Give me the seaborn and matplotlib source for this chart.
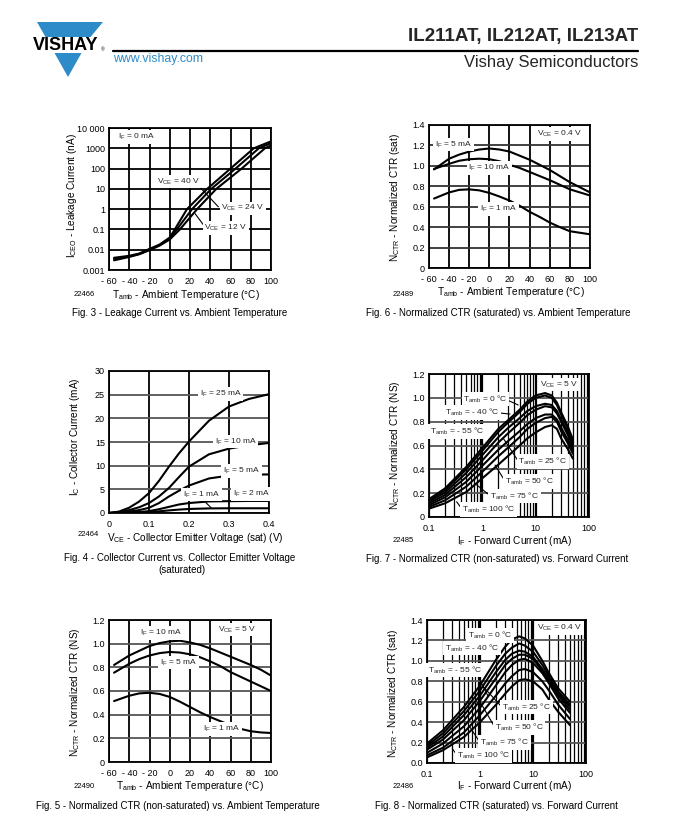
import matplotlib
matplotlib.use("Agg")
import matplotlib.pyplot as plt
import numpy as np
import pandas as pd
import seaborn as sns
from matplotlib.patches import Polygon
from matplotlib.ticker import LogLocator, NullFormatter

W, H = 684, 839

# ---- Fig. 3: leakage current vs temperature (nA) ----
t3_40v = [-55, -40, -30, -20, -10, 0, 5, 17, 37, 60, 83, 100]
i3_40v = [0.004, 0.005, 0.0065, 0.011, 0.018, 0.04, 0.1, 1, 10, 100, 1000, 2200]
t3_24v = [-55, -40, -30, -20, -10, 0, 7, 22, 41, 65, 88, 100]
i3_24v = [0.0035, 0.0047, 0.0062, 0.010, 0.017, 0.035, 0.1, 1, 10, 100, 1000, 1800]
t3_12v = [-55, -40, -30, -20, -10, 0, 10, 27, 46, 71, 94, 100]
i3_12v = [0.003, 0.0044, 0.006, 0.0095, 0.016, 0.032, 0.1, 1, 10, 100, 1000, 1400]

# ---- Fig. 6: normalized CTR (sat) vs temperature ----
t_amb = [-55, -40, -30, -20, -10, 0, 10, 20, 30, 40, 50, 60, 70, 80, 90, 100]
ctr6_5ma = [0.965, 1.07, 1.11, 1.14, 1.16, 1.17, 1.16, 1.14, 1.10, 1.06, 1.01, 0.96, 0.90, 0.84, 0.79, 0.74]
ctr6_10ma = [0.97, 1.02, 1.05, 1.065, 1.07, 1.065, 1.045, 1.01, 0.98, 0.94, 0.90, 0.86, 0.815, 0.77, 0.74, 0.71]
ctr6_1ma = [0.68, 0.74, 0.765, 0.77, 0.76, 0.735, 0.70, 0.66, 0.61, 0.55, 0.50, 0.445, 0.40, 0.36, 0.345, 0.33]

# ---- Fig. 4: collector current vs VCE(sat) ----
vce4 = [0, 0.025, 0.05, 0.075, 0.1, 0.125, 0.15, 0.175, 0.2, 0.25, 0.3, 0.35, 0.4]
ic4_25ma = [0, 0.3, 1.1, 2.4, 4.2, 6.8, 9.8, 12.6, 15.1, 19.5, 22.5, 24.1, 25.1]
ic4_10ma = [0, 0.2, 0.6, 1.2, 2.1, 3.5, 5.3, 7.6, 9.8, 12.4, 13.6, 14.3, 14.8]
ic4_5ma = [0, 0.1, 0.3, 0.6, 1.1, 2.1, 3.5, 4.7, 5.8, 7.3, 7.9, 8.1, 8.15]
ic4_2ma = [0, 0.05, 0.1, 0.2, 0.4, 0.8, 1.3, 1.8, 2.1, 2.45, 2.5, 2.55, 2.55]
ic4_1ma = [0, 0.02, 0.05, 0.1, 0.2, 0.35, 0.55, 0.72, 0.85, 0.97, 1.0, 1.0, 1.0]

# ---- Fig. 7: normalized CTR (NS) vs forward current ----
if7 = [0.1, 0.2, 0.5, 1, 2, 3, 5, 7, 10, 15, 20, 25, 30, 40, 50]
ctr7 = {
    "0": [0.15, 0.24, 0.42, 0.58, 0.74, 0.81, 0.90, 0.97, 1.02, 1.04, 1.02, 0.96, 0.88, 0.76, 0.65],
    "-40": [0.14, 0.225, 0.40, 0.555, 0.715, 0.79, 0.88, 0.95, 1.00, 1.02, 1.00, 0.94, 0.86, 0.74, 0.63],
    "-55": [0.13, 0.205, 0.37, 0.52, 0.67, 0.745, 0.83, 0.89, 0.93, 0.95, 0.94, 0.89, 0.82, 0.71, 0.61],
    "25": [0.115, 0.185, 0.335, 0.475, 0.625, 0.70, 0.79, 0.855, 0.90, 0.93, 0.92, 0.87, 0.80, 0.69, 0.59],
    "50": [0.10, 0.165, 0.295, 0.43, 0.565, 0.635, 0.72, 0.78, 0.83, 0.86, 0.86, 0.82, 0.75, 0.65, 0.56],
    "75": [0.085, 0.14, 0.255, 0.38, 0.51, 0.58, 0.67, 0.74, 0.79, 0.83, 0.84, 0.80, 0.72, 0.62, 0.53],
    "100": [0.07, 0.115, 0.21, 0.325, 0.44, 0.51, 0.60, 0.66, 0.71, 0.755, 0.77, 0.74, 0.66, 0.57, 0.49],
}

# ---- Fig. 5: normalized CTR (NS) vs temperature ----
ctr5_10ma = [0.82, 0.90, 0.94, 0.98, 1.005, 1.02, 1.025, 1.01, 0.99, 0.96, 0.925, 0.89, 0.855, 0.82, 0.78, 0.73]
ctr5_5ma = [0.755, 0.83, 0.87, 0.90, 0.92, 0.93, 0.925, 0.91, 0.885, 0.85, 0.81, 0.76, 0.72, 0.68, 0.64, 0.60]
ctr5_1ma = [0.515, 0.56, 0.58, 0.585, 0.575, 0.55, 0.51, 0.465, 0.42, 0.38, 0.345, 0.31, 0.28, 0.26, 0.25, 0.245]

# ---- Fig. 8: normalized CTR (sat) vs forward current ----
if8 = [0.1, 0.2, 0.5, 1, 2, 3, 4, 5.5, 7, 10, 15, 20, 30, 50]
ctr8 = {
    "0": [0.19, 0.32, 0.55, 0.76, 1.01, 1.14, 1.21, 1.24, 1.22, 1.15, 1.00, 0.88, 0.73, 0.60],
    "-40": [0.17, 0.29, 0.51, 0.71, 0.95, 1.07, 1.13, 1.17, 1.15, 1.09, 0.96, 0.85, 0.70, 0.57],
    "-55": [0.15, 0.26, 0.47, 0.66, 0.89, 1.01, 1.07, 1.10, 1.09, 1.04, 0.92, 0.82, 0.68, 0.55],
    "25": [0.13, 0.23, 0.42, 0.61, 0.83, 0.96, 1.02, 1.06, 1.06, 1.02, 0.90, 0.80, 0.66, 0.52],
    "50": [0.10, 0.19, 0.36, 0.54, 0.76, 0.89, 0.96, 1.01, 1.02, 0.98, 0.88, 0.78, 0.63, 0.49],
    "75": [0.075, 0.15, 0.30, 0.47, 0.66, 0.78, 0.85, 0.91, 0.92, 0.89, 0.80, 0.71, 0.57, 0.43],
    "100": [0.055, 0.125, 0.255, 0.40, 0.57, 0.68, 0.75, 0.81, 0.82, 0.80, 0.72, 0.62, 0.50, 0.37],
}

temp_ticks = [-60, -40, -20, 0, 20, 40, 60, 80, 100]
temp_labels = ["- 60", "- 40", "- 20", "0", "20", "40", "60", "80", "100"]

sns.set_theme(style="white")
plt.rcParams["font.family"] = ["Liberation Sans", "DejaVu Sans"]
plt.rcParams["mathtext.fontset"] = "custom"
plt.rcParams["mathtext.rm"] = "Liberation Sans"
plt.rcParams["mathtext.default"] = "regular"

fig = plt.figure(figsize=(W / 100, H / 100), dpi=100)
fig.patch.set_facecolor("white")

bg = fig.add_axes([0, 0, 1, 1])
bg.set_xlim(0, W)
bg.set_ylim(H, 0)
bg.axis("off")


def panel(left, top, right, bottom):
    return fig.add_axes([left / W, 1 - bottom / H, (right - left) / W, (bottom - top) / H])


def draw_curves(ax, xs, ys, names):
    df = pd.concat(
        [pd.DataFrame({"x": x, "y": y, "curve": n}) for x, y, n in zip(xs, ys, names)],
        ignore_index=True,
    )
    sns.lineplot(data=df, x="x", y="y", units="curve", estimator=None, color="black",
                 linewidth=1.5, ax=ax, legend=False, zorder=3)
    ax.set_xlabel("")
    ax.set_ylabel("")


def style(ax, xlim, ylim, xticks, xlabels, yticks, ylabels, hcolor="#555555"):
    ax.set_xlim(xlim)
    ax.set_ylim(ylim)
    ax.set_xticks(xticks)
    ax.set_xticklabels(xlabels)
    ax.set_yticks(yticks)
    ax.set_yticklabels(ylabels)
    ax.tick_params(axis="both", which="both", length=0, labelsize=6.5, colors="black")
    ax.tick_params(axis="x", pad=5)
    ax.tick_params(axis="y", pad=3)
    ax.set_axisbelow(True)
    ax.xaxis.grid(True, which="major", color="black", linewidth=1.3)
    ax.yaxis.grid(True, which="major", color=hcolor, linewidth=1.3)
    for s in ax.spines.values():
        s.set_visible(True)
        s.set_color("black")
        s.set_linewidth(1.3)


def tag(ax, x, y, s, ha="left"):
    ax.text(x, y, s, ha=ha, va="center", fontsize=6, zorder=5,
            bbox=dict(facecolor="white", edgecolor="none", pad=1.2))


def lead(ax, x0, y0, x1, y1):
    ax.plot([x0, x1], [y0, y1], color="black", linewidth=0.8, zorder=4)


def log_grid(ax):
    ax.set_xscale("log")
    ax.xaxis.set_minor_locator(LogLocator(base=10, subs=np.arange(2, 10)))
    ax.xaxis.set_minor_formatter(NullFormatter())


# ---------------- header ----------------
blue = "#2d8bc9"
bg.add_patch(Polygon([(37, 22), (103, 22), (90.5, 37), (45.5, 37)], closed=True, color=blue, lw=0))
bg.add_patch(Polygon([(54.5, 53), (81.5, 53), (68, 77)], closed=True, color=blue, lw=0))
bg.text(66, 45, "VISHAY", ha="center", va="center", fontsize=13, fontweight="bold", color="black")
bg.text(101, 50, "®", ha="left", va="center", fontsize=3.5, color="black")
bg.plot([113, 638], [51, 51], color="black", linewidth=1.6)
bg.text(113, 59, "www.vishay.com", ha="left", va="center", fontsize=8.8, color=blue)
bg.text(638, 37, "IL211AT, IL212AT, IL213AT", ha="right", va="center", fontsize=13.5, fontweight="bold")
bg.text(638, 63, "Vishay Semiconductors", ha="right", va="center", fontsize=12)

# ---------------- Fig. 3 ----------------
ax3 = panel(109, 128, 271, 270)
ax3.set_yscale("log")
draw_curves(ax3, [t3_40v, t3_24v, t3_12v], [i3_40v, i3_24v, i3_12v], ["40 V", "24 V", "12 V"])
style(ax3, (-60, 100), (0.001, 10000), temp_ticks, temp_labels,
      [0.001, 0.01, 0.1, 1, 10, 100, 1000, 10000],
      ["0.001", "0.01", "0.1", "1", "10", "100", "1000", "10 000"], hcolor="black")
ax3.yaxis.set_minor_formatter(NullFormatter())
tag(ax3, -51, 3600, "I$_F$ = 0 mA")
lead(ax3, 27, 17, 48, 1.3)
lead(ax3, 34, 0.15, 25, 0.6)
tag(ax3, -13, 23, "V$_{CE}$ = 40 V")
tag(ax3, 51, 1.1, "V$_{CE}$ = 24 V")
tag(ax3, 34, 0.115, "V$_{CE}$ = 12 V")

# ---------------- Fig. 6 ----------------
ax6 = panel(429, 125, 590, 268)
draw_curves(ax6, [t_amb] * 3, [ctr6_5ma, ctr6_10ma, ctr6_1ma], ["5", "10", "1"])
style(ax6, (-60, 100), (0, 1.4), temp_ticks, temp_labels,
      [0, 0.2, 0.4, 0.6, 0.8, 1.0, 1.2, 1.4],
      ["0", "0.2", "0.4", "0.6", "0.8", "1.0", "1.2", "1.4"], hcolor="#333333")
tag(ax6, -54, 1.21, "I$_F$ = 5 mA")
tag(ax6, -21, 0.98, "I$_F$ = 10 mA")
tag(ax6, -9.5, 0.576, "I$_F$ = 1 mA")
tag(ax6, 47, 1.31, "V$_{CE}$ = 0.4 V")

# ---------------- Fig. 4 ----------------
ax4 = panel(109, 371, 269, 513)
draw_curves(ax4, [vce4] * 5, [ic4_25ma, ic4_10ma, ic4_5ma, ic4_2ma, ic4_1ma], ["25", "10", "5", "2", "1"])
style(ax4, (0, 0.4), (0, 30), [0, 0.1, 0.2, 0.3, 0.4], ["0", "0.1", "0.2", "0.3", "0.4"],
      [0, 5, 10, 15, 20, 25, 30], ["0", "5", "10", "15", "20", "25", "30"])
tag(ax4, 0.227, 25.1, "I$_F$ = 25 mA")
tag(ax4, 0.264, 15.1, "I$_F$ = 10 mA")
tag(ax4, 0.285, 8.9, "I$_F$ = 5 mA")
lead(ax4, 0.23, 3.2, 0.256, 1.05)
tag(ax4, 0.185, 3.9, "I$_F$ = 1 mA")
tag(ax4, 0.31, 4.0, "I$_F$ = 2 mA")

# ---------------- Fig. 7 ----------------
ax7 = panel(429, 374, 589, 517)
log_grid(ax7)
draw_curves(ax7, [if7] * 7, list(ctr7.values()), list(ctr7.keys()))
style(ax7, (0.1, 100), (0, 1.2), [0.1, 1, 10, 100], ["0.1", "1", "10", "100"],
      [0, 0.2, 0.4, 0.6, 0.8, 1.0, 1.2], ["0", "0.2", "0.4", "0.6", "0.8", "1.0", "1.2"])
ax7.xaxis.grid(True, which="minor", color="black", linewidth=0.9)
ax7.xaxis.grid(True, which="major", color="black", linewidth=1.6)
tag(ax7, 12.1, 1.11, "V$_{CE}$ = 5 V")
lead(ax7, 2.67, 0.99, 4.7, 0.94)
lead(ax7, 1.86, 0.875, 3.3, 0.864)
lead(ax7, 0.84, 0.716, 1.04, 0.60)
lead(ax7, 4.7, 0.47, 2.47, 0.66)
lead(ax7, 2.67, 0.30, 1.73, 0.436)
lead(ax7, 1.39, 0.18, 0.78, 0.27)
lead(ax7, 0.41, 0.07, 0.33, 0.128)
tag(ax7, 0.44, 0.99, "T$_{amb}$ = 0 °C")
tag(ax7, 0.20, 0.875, "T$_{amb}$ = - 40 °C")
tag(ax7, 0.104, 0.716, "T$_{amb}$ = - 55 °C")
tag(ax7, 4.7, 0.464, "T$_{amb}$ = 25 °C")
tag(ax7, 2.67, 0.296, "T$_{amb}$ = 50 °C")
tag(ax7, 1.39, 0.176, "T$_{amb}$ = 75 °C")
tag(ax7, 0.41, 0.065, "T$_{amb}$ = 100 °C")

# ---------------- Fig. 5 ----------------
ax5 = panel(109, 620, 271, 762)
draw_curves(ax5, [t_amb] * 3, [ctr5_10ma, ctr5_5ma, ctr5_1ma], ["10", "5", "1"])
style(ax5, (-60, 100), (0, 1.2), temp_ticks, temp_labels,
      [0, 0.2, 0.4, 0.6, 0.8, 1.0, 1.2], ["0", "0.2", "0.4", "0.6", "0.8", "1.0", "1.2"])
tag(ax5, -29.6, 1.09, "I$_F$ = 10 mA")
tag(ax5, -9.7, 0.84, "I$_F$ = 5 mA")
tag(ax5, 33, 0.28, "I$_F$ = 1 mA")
tag(ax5, 48, 1.12, "V$_{CE}$ = 5 V")

# ---------------- Fig. 8 ----------------
ax8 = panel(427, 620, 586, 763)
log_grid(ax8)
draw_curves(ax8, [if8] * 7, list(ctr8.values()), list(ctr8.keys()))
style(ax8, (0.1, 100), (0, 1.4), [0.1, 1, 10, 100], ["0.1", "1", "10", "100"],
      [0, 0.2, 0.4, 0.6, 0.8, 1.0, 1.2, 1.4],
      ["0.0", "0.2", "0.4", "0.6", "0.8", "1.0", "1.2", "1.4"])
ax8.xaxis.grid(True, which="minor", color="black", linewidth=0.9)
ax8.xaxis.grid(True, which="major", color="black", linewidth=1.6)
tag(ax8, 12, 1.32, "V$_{CE}$ = 0.4 V")
lead(ax8, 2.72, 1.25, 3.4, 1.17)
lead(ax8, 1.68, 1.125, 2.2, 1.03)
lead(ax8, 0.8, 0.91, 1.4, 0.66)
lead(ax8, 2.6, 0.547, 1.09, 0.76)
lead(ax8, 1.9, 0.35, 1.0, 0.6)
lead(ax8, 1.0, 0.20, 0.65, 0.35)
lead(ax8, 0.37, 0.076, 0.3, 0.14)
tag(ax8, 0.59, 1.25, "T$_{amb}$ = 0 °C")
tag(ax8, 0.22, 1.125, "T$_{amb}$ = - 40 °C")
tag(ax8, 0.105, 0.91, "T$_{amb}$ = - 55 °C")
tag(ax8, 2.6, 0.547, "T$_{amb}$ = 25 °C")
tag(ax8, 1.9, 0.35, "T$_{amb}$ = 50 °C")
tag(ax8, 1.0, 0.20, "T$_{amb}$ = 75 °C")
tag(ax8, 0.37, 0.076, "T$_{amb}$ = 100 °C")

# ---------------- axis titles, captions, drawing numbers ----------------
lab = dict(fontsize=7.2, color="black")
cap = dict(fontsize=7, color="black", ha="center", va="center")
num = dict(fontsize=5.5, color="black", ha="center", va="center")

bg.text(72, 196, "I$_{CEO}$ - Leakage Current (nA)", rotation=90, ha="center", va="center", **lab)
bg.text(186, 295, "T$_{amb}$ - Ambient Temperature (°C)", ha="center", va="center", **lab)
bg.text(84, 295, "22466", **num)
bg.text(180, 313, "Fig. 3 - Leakage Current vs. Ambient Temperature", **cap)

bg.text(395, 197, "N$_{CTR}$ - Normalized CTR (sat)", rotation=90, ha="center", va="center", **lab)
bg.text(511, 292, "T$_{amb}$ - Ambient Temperature (°C)", ha="center", va="center", **lab)
bg.text(403, 294, "22489", **num)
bg.text(498, 313, "Fig. 6 - Normalized CTR (saturated) vs. Ambient Temperature", **cap)

bg.text(75, 437, "I$_C$ - Collector Current (mA)", rotation=90, ha="center", va="center", **lab)
bg.text(195, 538, "V$_{CE}$ - Collector Emitter Voltage (sat) (V)", ha="center", va="center", **lab)
bg.text(88, 534, "22464", **num)
bg.text(180, 558, "Fig. 4 - Collector Current vs. Collector Emitter Voltage", **cap)
bg.text(182, 570, "(saturated)", **cap)

bg.text(395, 445, "N$_{CTR}$ - Normalized CTR (NS)", rotation=90, ha="center", va="center", **lab)
bg.text(515, 541, "I$_F$ - Forward Current (mA)", ha="center", va="center", **lab)
bg.text(403, 541, "22485", **num)
bg.text(497, 559, "Fig. 7 - Normalized CTR (non-saturated) vs. Forward Current", **cap)

bg.text(75, 692, "N$_{CTR}$ - Normalized CTR (NS)", rotation=90, ha="center", va="center", **lab)
bg.text(190, 786, "T$_{amb}$ - Ambient Temperature (°C)", ha="center", va="center", **lab)
bg.text(84, 787, "22490", **num)
bg.text(178, 806, "Fig. 5 - Normalized CTR (non-saturated) vs. Ambient Temperature", **cap)

bg.text(393, 693, "N$_{CTR}$ - Normalized CTR (sat)", rotation=90, ha="center", va="center", **lab)
bg.text(515, 786, "I$_F$ - Forward Current (mA)", ha="center", va="center", **lab)
bg.text(403, 787, "22486", **num)
bg.text(496, 806, "Fig. 8 - Normalized CTR (saturated) vs. Forward Current", **cap)

fig.savefig("out.png", dpi=100)
plt.close(fig)
